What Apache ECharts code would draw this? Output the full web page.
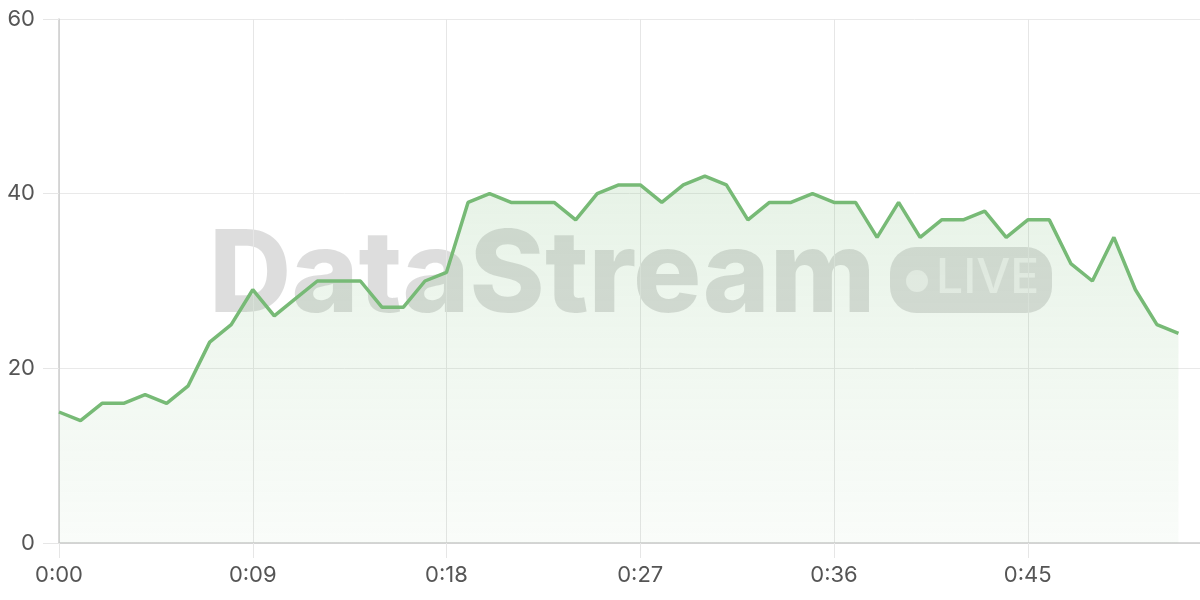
<!DOCTYPE html>
<html>
<head>
<meta charset="utf-8">
<script src="https://cdn.jsdelivr.net/npm/echarts@6/dist/echarts.min.js"></script>
<style>
html,body{margin:0;padding:0;background:#fff;}
#chart{width:1200px;height:600px;}
</style>
</head>
<body>
<div id="chart"></div>
<script>
// time categories (seconds) 0:00 .. 0:53
const categories = [];
for (let s = 0; s <= 53; s++) categories.push('0:' + String(s).padStart(2, '0'));

const values = [15,14,16,16,17,16,18,23,25,29,26,28,30,30,30,27,27,30,31,39,40,39,39,39,37,40,41,41,39,41,42,41,37,39,39,40,39,39,35,39,35,37,37,38,35,37,37,32,30,35,29,25,24];

const yTicks = [0, 20, 40, 60];

const chart = echarts.init(document.getElementById('chart'));
const option = {
  animation: false,
  grid: { left: 59, right: 0, top: 19, bottom: 57, containLabel: false },
  graphic: [
    {
      type: 'text', z: 0, left: 209, top: 221,
      style: { text: 'DataStream', font: '800 114px Inter', fill: 'rgba(0,0,0,0.135)' }
    },
    {
      type: 'rect', z: 0, shape: { x: 890, y: 247, width: 162, height: 66, r: 26 },
      style: { fill: 'rgba(0,0,0,0.13)' }
    },
    {
      type: 'circle', z: 0, shape: { cx: 917, cy: 281, r: 11 },
      style: { fill: 'rgba(255,255,255,0.55)' }
    },
    {
      type: 'text', z: 0, left: 936, top: 255,
      style: { text: 'LIVE', font: '500 48px Inter', fill: 'rgba(255,255,255,0.55)' }
    }
  ],
  xAxis: {
    type: 'category',
    data: categories,
    boundaryGap: false,
    axisLine: { lineStyle: { color: '#cccccc', width: 1.5 } },
    axisTick: { show: true, interval: 8, length: 15, lineStyle: { color: '#e6e6e6' } },
    axisLabel: { interval: 8, color: '#555555', fontSize: 22, margin: 21, fontFamily: 'Inter' },
    splitLine: { show: true, interval: 8, lineStyle: { color: '#e6e6e6', width: 1 } }
  },
  yAxis: {
    type: 'value',
    min: 0, max: 60, interval: 20,
    axisLine: { show: true, lineStyle: { color: '#cccccc', width: 1.5 } },
    axisTick: { show: true, length: 16, lineStyle: { color: '#e6e6e6' } },
    axisLabel: { color: '#555555', fontSize: 22, margin: 24, fontFamily: 'Inter',
      formatter: v => yTicks.includes(v) ? String(v) : '' },
    splitLine: { lineStyle: { color: '#e9e9e9', width: 1 } }
  },
  series: [{
    type: 'line',
    data: values,
    symbol: 'none',
    z: 3,
    lineStyle: { color: '#77ba76', width: 3.5 },
    areaStyle: {
      color: new echarts.graphic.LinearGradient(0, 0, 0, 1, [
        { offset: 0, color: 'rgba(121,187,120,0.26)' },
        { offset: 1, color: 'rgba(121,187,120,0.06)' }
      ])
    }
  }]
};
chart.setOption(option);
</script>
</body>
</html>
